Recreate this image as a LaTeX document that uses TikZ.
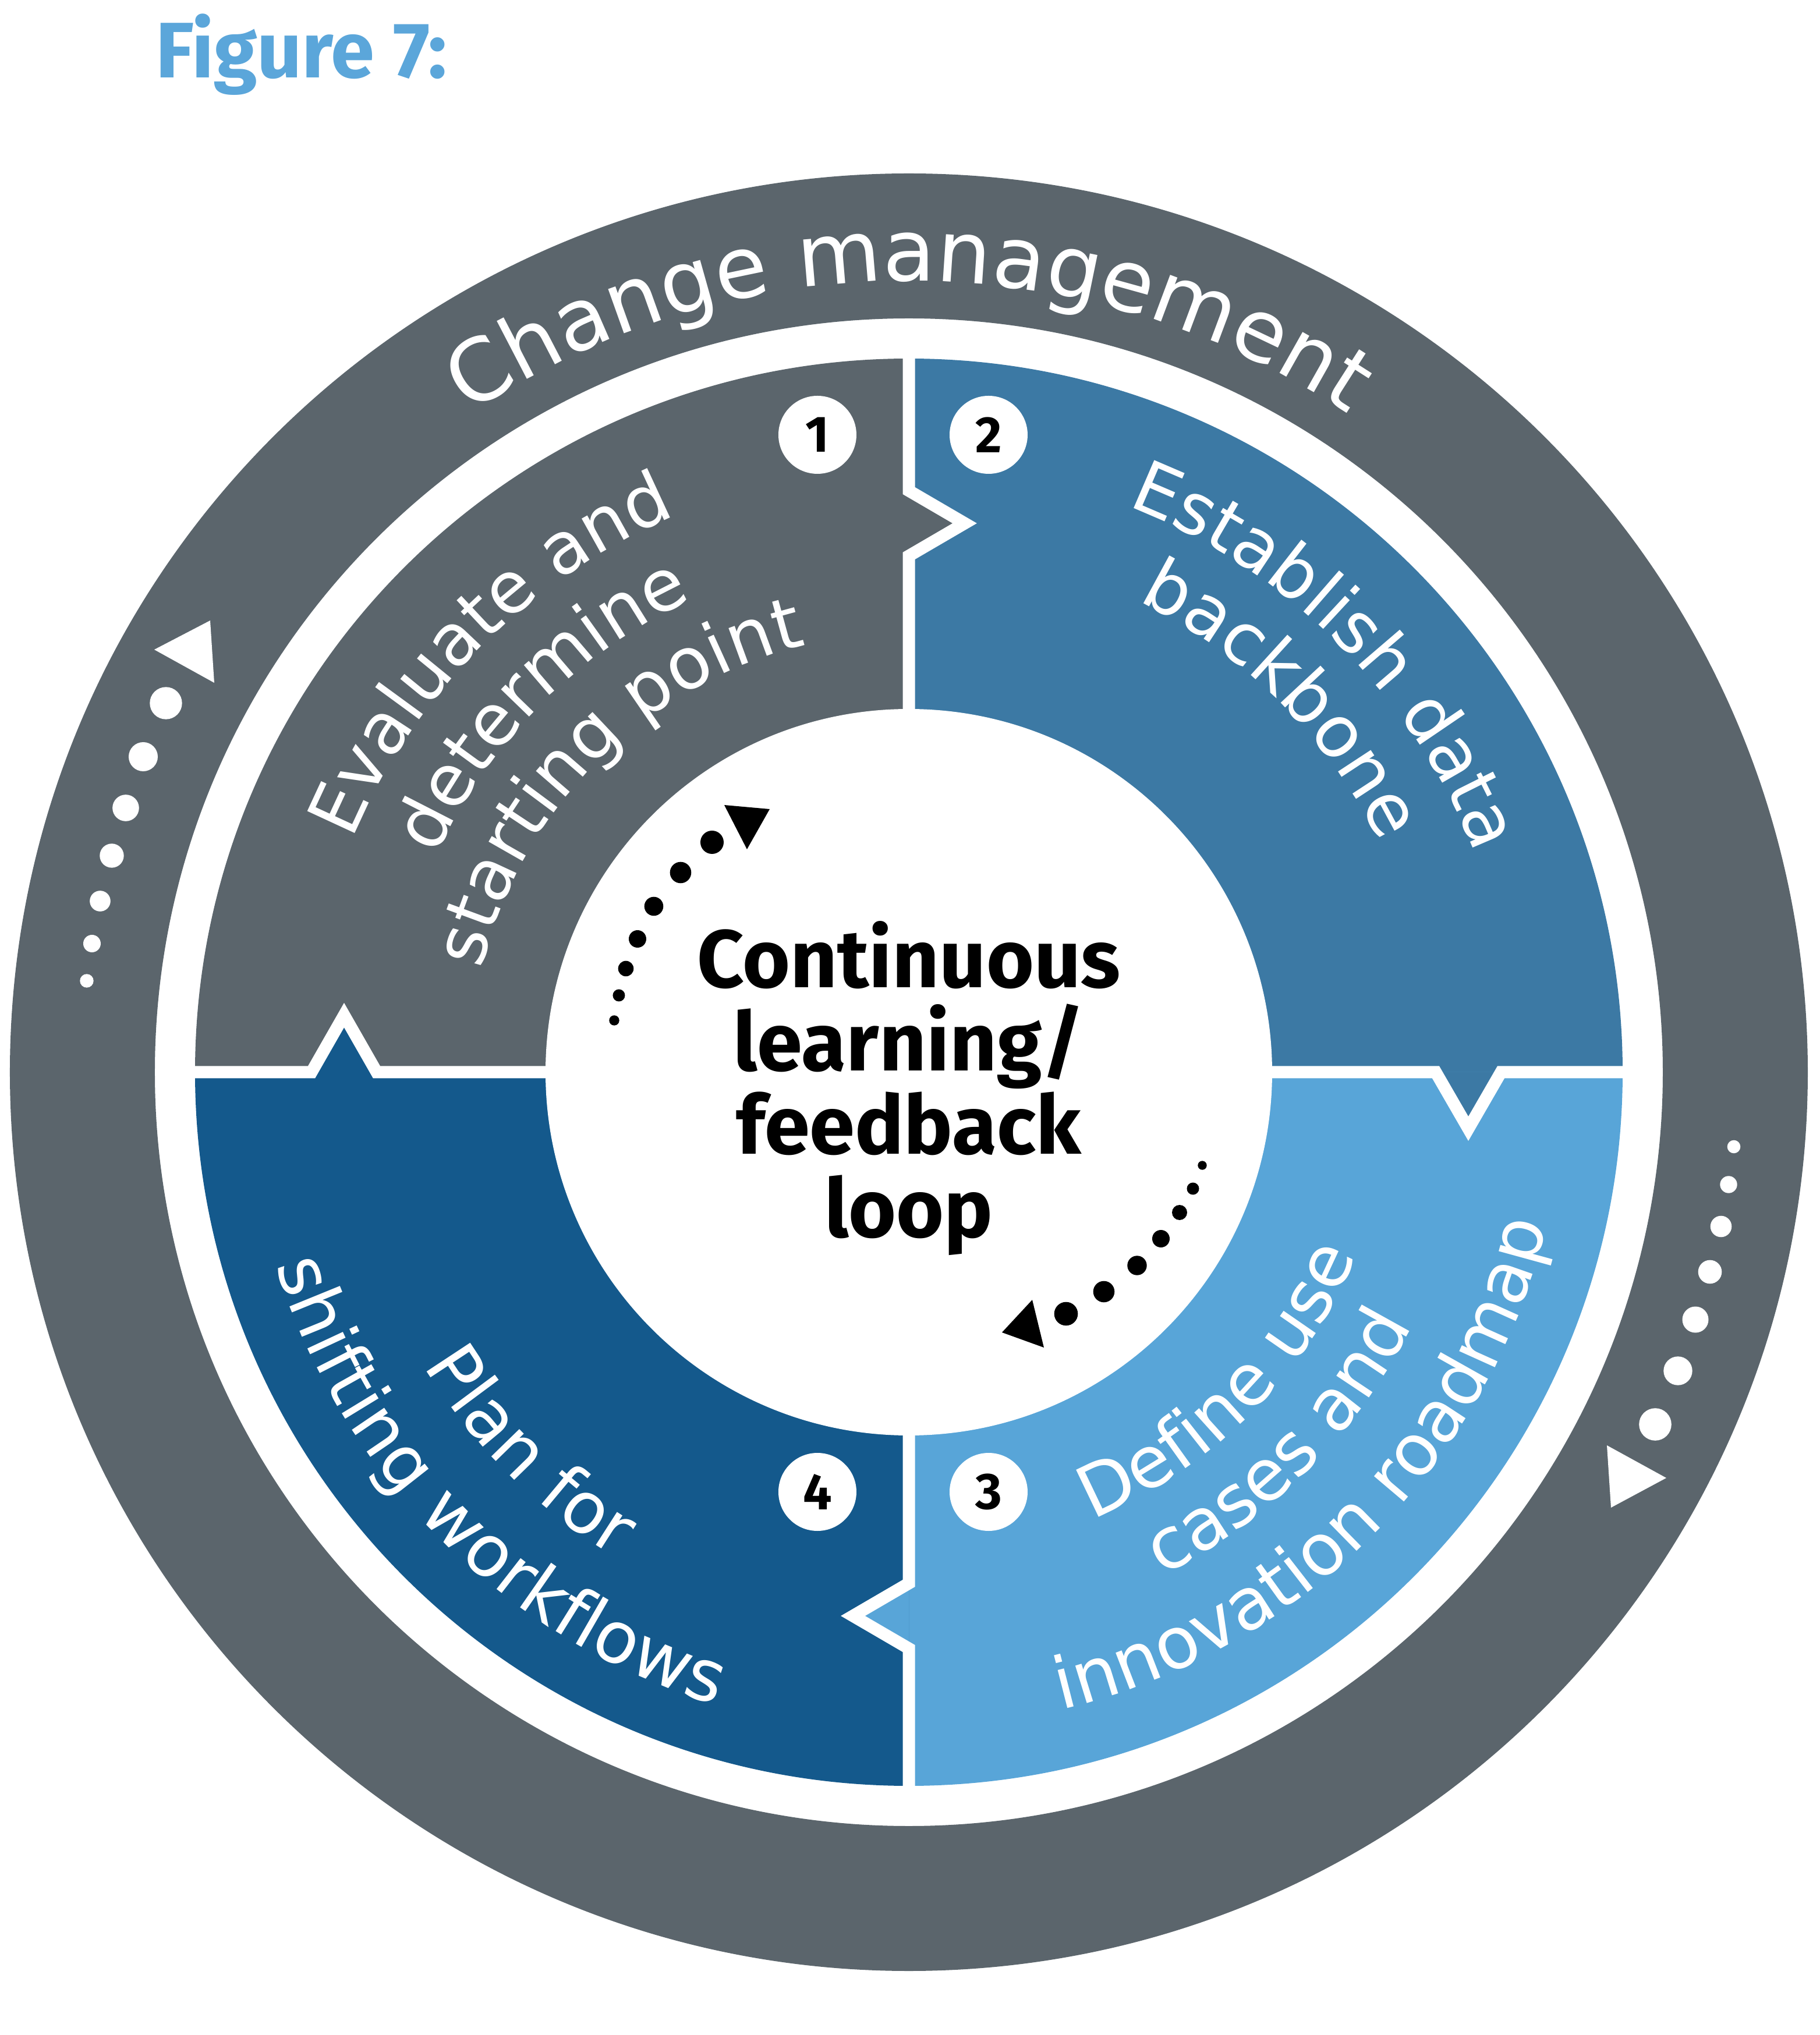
\documentclass[tikz,border=0pt]{standalone}
\usepackage{fontspec}
\usepackage{tikz}
\usetikzlibrary{decorations.text}

\setmainfont{DejaVu Sans}
\newfontfamily\dejavu{DejaVu Sans}
\newfontfamily\fira{Fira Sans}

\definecolor{ringgray}{HTML}{5B656C}
\definecolor{qone}{HTML}{5B656C}
\definecolor{qtwo}{HTML}{3C79A4}
\definecolor{qthree}{HTML}{58A5D8}
\definecolor{qfour}{HTML}{14598C}
\definecolor{titleblue}{HTML}{5BA6DA}

\begin{document}
\begin{tikzpicture}[every node/.style={inner sep=0pt}]
		\tikzstyle{badge}=[circle, fill=white, minimum size=13.4mm, font=\fira\bfseries\fontsize{25}{25}\selectfont]
		\tikzstyle{arctext}=[decorate, decoration={text along path, text align=center,
			text={|\dejavu\fontsize{35}{40}\selectfont\color{white}|#1}}]
		\tikzstyle{gapline}=[white, line width=2.1mm, miter limit=10]
		\tikzstyle{ringdot}=[fill=white]
		\tikzstyle{loopdot}=[fill=black]

		\useasboundingbox (-15.61,-16.54) rectangle (15.64,18.42);

		\node[anchor=base west, text=titleblue, font=\fira\bfseries\fontsize{38.5}{44}\selectfont] (title) at (-12.94,17.08) {Figure 7:};

		% outer ring
		\fill[ringgray, even odd rule] (0,0) circle (15.44) (0,0) circle (12.95);
		\path[decorate, decoration={text along path, text align=center,
			text={|\dejavu\fontsize{42}{50}\selectfont\color{white}|Change management}}]
			(180:13.59) arc[start angle=180, end angle=0, radius=13.59];

		% quadrants
		\fill[qone]   (0,0) -- (90:12.26)  arc[start angle=90,  end angle=180, radius=12.26] -- cycle;
		\fill[qtwo]   (0,0) -- (0:12.26)   arc[start angle=0,   end angle=90,  radius=12.26] -- cycle;
		\fill[qthree] (0,0) -- (-90:12.26) arc[start angle=-90, end angle=0,   radius=12.26] -- cycle;
		\fill[qfour]  (0,0) -- (180:12.26) arc[start angle=180, end angle=270, radius=12.26] -- cycle;

		\fill[qone]   (0,9.99)     -- (0.96,9.43)  -- (0,8.87)     -- cycle;
		\fill[qtwo]   (9.05,0)     -- (9.61,-0.97) -- (10.17,0)    -- cycle;
		\fill[qthree] (0,-8.78)    -- (-0.96,-9.34) -- (0,-9.90)   -- cycle;
		\fill[qfour]  (-10.26,0)   -- (-9.70,0.98) -- (-9.14,0)    -- cycle;

		\draw[gapline] (0,12.5)  -- (0,9.99)   -- (0.96,9.43)   -- (0,8.87)  -- (0,0);
		\draw[gapline] (12.5,0)  -- (10.17,0)  -- (9.61,-0.97)  -- (9.05,0)  -- (0,0);
		\draw[gapline] (0,-12.5) -- (0,-9.90)  -- (-0.96,-9.34) -- (0,-8.78) -- (0,0);
		\draw[gapline] (-12.5,0) -- (-10.26,0) -- (-9.70,0.98)  -- (-9.14,0) -- (0,0);

		\fill[white] (0,0) circle (6.24);

		% dots on the ring
		\foreach \x/\y/\r in {-12.76/6.34/.277, -13.15/5.42/.25, -13.45/4.54/.228, -13.69/3.72/.207,
			-13.89/2.94/.178, -14.03/2.21/.15, -14.12/1.57/.117}
			\fill[ringdot] (\x,\y) circle (\r);
		\fill[ringdot] (-12.96,7.26) -- (-12.00,7.76) -- (-11.93,6.69) -- cycle;
		\foreach \x/\y/\r in {14.17/-1.28/.113, 14.08/-1.93/.147, 13.95/-2.65/.183, 13.76/-3.43/.203,
			13.51/-4.25/.225, 13.21/-5.13/.247, 12.82/-6.05/.278}
			\fill[ringdot] (\x,\y) circle (\r);
		\fill[ringdot] (11.99,-6.41) -- (13.01,-6.97) -- (12.06,-7.48) -- cycle;

		% dots in the middle
		\foreach \x/\y/\r in {-5.06/0.89/.087, -4.98/1.32/.105, -4.86/1.78/.133, -4.66/2.29/.15,
			-4.38/2.85/.163, -3.92/3.43/.183, -3.38/3.95/.20}
			\fill[loopdot] (\x,\y) circle (\r);
		\fill[loopdot] (-3.17,4.59) -- (-2.39,4.52) -- (-2.78,3.83) -- cycle;
		\foreach \x/\y/\r in {5.04/-1.60/.077, 4.88/-2.00/.105, 4.65/-2.41/.13, 4.33/-2.86/.15,
			3.92/-3.32/.167, 3.35/-3.77/.183, 2.70/-4.15/.203}
			\fill[loopdot] (\x,\y) circle (\r);
		\fill[loopdot] (1.60,-4.47) -- (2.12,-3.91) -- (2.32,-4.73) -- cycle;

		\node[anchor=north, align=center, font=\fira\bfseries\fontsize{40}{40.7}\selectfont] (loop) at (0,2.60)
			{Continuous\\learning/\\feedback\\loop};

		\node[badge] (n1) at (-1.57,10.95) {1};
		\node[badge] (n2) at (1.37,10.95)  {2};
		\node[badge] (n3) at (1.37,-7.21)  {3};
		\node[badge] (n4) at (-1.57,-7.21) {4};

		% step texts
		\path[arctext=Evaluate and]   (180:10.36) arc[start angle=180, end angle=90, radius=10.36];
		\path[arctext=determine]      (180:8.93)  arc[start angle=180, end angle=90, radius=8.93];
		\path[arctext=starting point] (180:7.55)  arc[start angle=180, end angle=90, radius=7.55];

		\path[arctext=Establish data] (90:10.42) arc[start angle=90, end angle=0, radius=10.42];
		\path[arctext=backbone]       (90:9.0)   arc[start angle=90, end angle=0, radius=9.0];

		\path[arctext=Define use]         (-90:8.30)  arc[start angle=-90, end angle=0, radius=8.30];
		\path[arctext=cases and]          (-90:9.68)  arc[start angle=-90, end angle=0, radius=9.68];
		\path[arctext=innovation roadmap] (-90:11.26) arc[start angle=-90, end angle=0, radius=11.26];

		\path[arctext=Plan for]           (180:9.74)  arc[start angle=180, end angle=270, radius=9.74];
		\path[arctext=shifting workflows] (180:11.36) arc[start angle=180, end angle=270, radius=11.36];
\end{tikzpicture}
\end{document}
